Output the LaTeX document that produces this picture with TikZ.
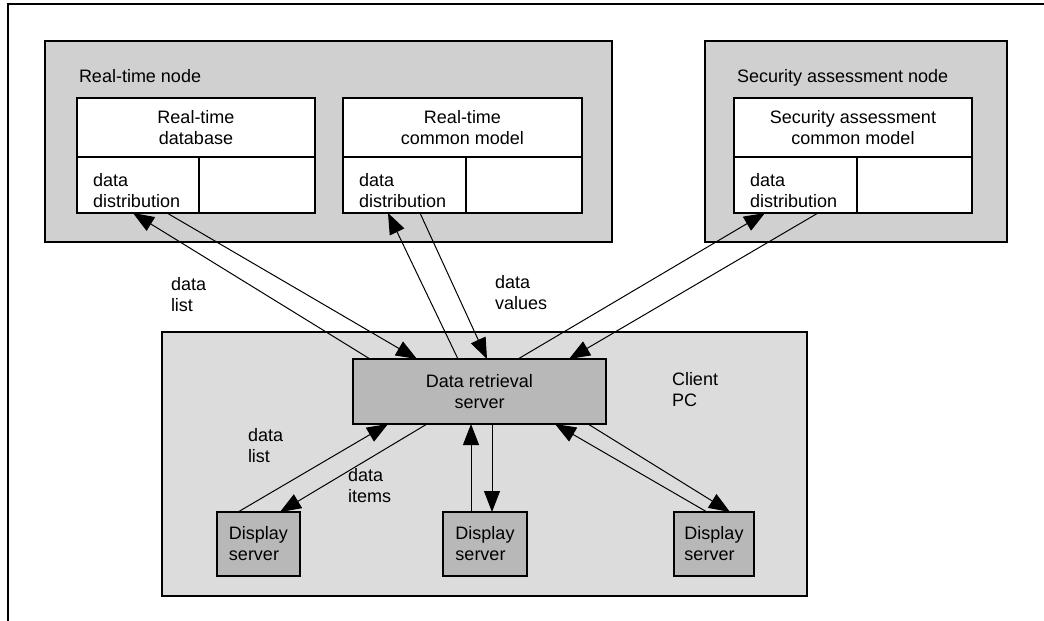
\documentclass[tikz,border=0pt]{standalone}
\usepackage{fontspec}
\setmainfont{Liberation Sans}
\usetikzlibrary{arrows.meta,calc}
\definecolor{contfill}{RGB}{208,208,208}
\definecolor{clientfill}{RGB}{220,220,220}
\definecolor{srvfill}{RGB}{184,184,184}
\tikzset{conn/.style={line width=1pt, -{Triangle[length=21pt,width=16pt]}}}
\begin{document}
\begin{tikzpicture}[x=1pt,y=-1pt,
  every node/.style={font=\fontsize{18}{21}\selectfont, inner sep=0pt, outer sep=0pt},
  container/.style={draw, line width=1.5pt, fill=contfill, anchor=north west},
  cell/.style={draw, line width=1.3pt, fill=white, anchor=north west, align=center},
  server/.style={draw, line width=1.5pt, fill=srvfill, anchor=north west, align=center},
  disp/.style={draw, line width=1.5pt, fill=srvfill, anchor=north west, align=left},
  lbl/.style={anchor=west, align=left},
]
\useasboundingbox (0,0) rectangle (1044,621);
\coordinate (fTR) at (1044,4);
\coordinate (fTL) at (8,4);
\coordinate (fBL) at (8,621);
\draw[line width=1.2pt] (fTR) -- (fTL) -- (fBL);

% containers
\node[container, minimum width=567, minimum height=201] (rtn) at (45,41) {};
\node[container, minimum width=302, minimum height=201] (san) at (705,41) {};
\node[container, fill=clientfill, minimum width=645, minimum height=264] (pc) at (162,332) {};

\node[anchor=base west] (rtnl) at (79,82) {Real-time node};
\node[anchor=base west] (sanl) at (737,82) {Security assessment node};

% real-time database
\node[cell, minimum width=238, minimum height=59] (rtdb) at (77,98) {Real-time\\database};
\node[cell, minimum width=122, minimum height=56] (dd1) at (77,157) {};
\node[cell, minimum width=116, minimum height=56] (e1) at (199,157) {};
% real-time common model
\node[cell, minimum width=239, minimum height=59] (rtcm) at (343,98) {Real-time\\common model};
\node[cell, minimum width=123, minimum height=56] (dd2) at (343,157) {};
\node[cell, minimum width=116, minimum height=56] (e2) at (466,157) {};
% security assessment common model
\node[cell, minimum width=238, minimum height=59] (scm) at (734,98) {Security assessment\\common model};
\node[cell, minimum width=123, minimum height=56] (dd3) at (734,157) {};
\node[cell, minimum width=115, minimum height=56] (e3) at (857,157) {};

\node[lbl] (dd1t) at (93,191) {data\\distribution};
\node[lbl] (dd2t) at (359,191) {data\\distribution};
\node[lbl] (dd3t) at (750,191) {data\\distribution};

% servers
\node[server, minimum width=253, minimum height=65] (drs) at (353,359) {Data retrieval\\server};
\node[disp, minimum width=83, minimum height=64] (ds1) at (217,512) {Display\\server};
\node[disp, minimum width=84, minimum height=64] (ds2) at (443,512) {Display\\server};
\node[disp, minimum width=80, minimum height=64] (ds3) at (674,512) {Display\\server};

% labels
\node[lbl] (l1) at (171,295) {data\\list};
\node[lbl] (l2) at (495,293) {data\\values};
\node[lbl] (l3) at (248,446) {data\\list};
\node[lbl] (l4) at (348,486) {data\\items};
\node[lbl] (l5) at (672,390) {Client\\PC};

% connectors top
\draw[conn] ($(drs.north west)+(17,0)$) -- ($(dd1.south west)+(56,0)$);
\draw[conn] ($(dd1.south west)+(90,0)$) -- ($(drs.north west)+(64,0)$);
\draw[conn] ($(drs.north west)+(105,0)$) -- ($(dd2.south west)+(45,0)$);
\draw[conn] ($(dd2.south west)+(77,0)$) -- ($(drs.north west)+(134,0)$);
\draw[conn] ($(drs.north west)+(165,0)$) -- ($(dd3.south west)+(31,0)$);
\draw[conn] ($(dd3.south west)+(84,0)$) -- ($(drs.north west)+(216,0)$);
% connectors bottom
\draw[conn] ($(ds1.north west)+(21,0)$) -- ($(drs.south west)+(35,0)$);
\draw[conn] ($(drs.south west)+(74,0)$) -- ($(ds1.north west)+(63,0)$);
\draw[conn] ($(ds2.north west)+(28,0)$) -- ($(drs.south west)+(118,0)$);
\draw[conn] ($(drs.south west)+(139,0)$) -- ($(ds2.north west)+(49,0)$);
\draw[conn] ($(ds3.north west)+(33,0)$) -- ($(drs.south west)+(202,0)$);
\draw[conn] ($(drs.south west)+(235,0)$) -- ($(ds3.north west)+(56,0)$);
\end{tikzpicture}
\end{document}
